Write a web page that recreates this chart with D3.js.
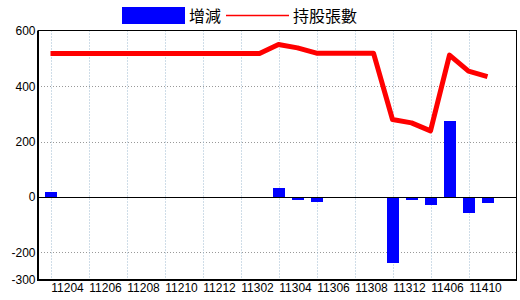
<!DOCTYPE html>
<html>
<head>
<meta charset="utf-8">
<script src="https://cdn.jsdelivr.net/npm/d3@7"></script>
<style>
  html, body { margin: 0; padding: 0; background: #fff; }
  svg { display: block; }
  .tick-text { font-family: "Liberation Sans Narrow", "Arial Narrow", "Liberation Sans", Arial, sans-serif; font-size: 12px; fill: #000; }
  .legend-text { font-family: "Noto Sans CJK TC", "Noto Sans CJK SC", sans-serif; font-size: 16px; fill: #000; }
</style>
</head>
<body>
<script>
// ---- Data ----
const categories = ["11203","11204","11205","11206","11207","11208","11209","11210","11211","11212","11301","11302",
                    "11303","11304","11305","11306","11307","11308","11310","11312","11403","11406","11408","11410"];
const changeValues = [18, 0, 0, 0, 0, 0, 0, 0, 0, 0, 0, 0,
                      32, -12, -19, 0, 0, 0, -240, -12, -29, 274, -58, -20];
const holdingValues = [519, 519, 519, 519, 519, 519, 519, 519, 519, 519, 519, 519,
                       551, 539, 520, 520, 520, 520, 280, 268, 239, 513, 455, 435];
const yTicks = [600, 400, 200, 0, -200, -300];
const yGrid = [400, 200, -200];
const xLabels = ["11204","11206","11208","11210","11212","11302","11304","11306","11308","11312","11406","11410"];
const legendLabels = ["增減", "持股張數"];

// ---- Layout ----
const W = 520, H = 300;
const mLeft = 38, mRight = 516.5, mTop = 30.5, mBottom = 280;

const svg = d3.select("body").append("svg").attr("width", W).attr("height", H);

const y = d3.scaleLinear().domain([-300, 600]).range([mBottom, mTop + 0.5]);
const x = d3.scalePoint().domain(categories).range([50.5, 487.5]);

// grid: horizontal
svg.append("g").selectAll("line").data(yGrid).join("line")
  .attr("x1", mLeft).attr("x2", mRight)
  .attr("y1", d => Math.round(y(d)) + 0.5).attr("y2", d => Math.round(y(d)) + 0.5)
  .attr("stroke", "#999").attr("stroke-width", 1).attr("stroke-dasharray", "1,2");

// grid: vertical at every other category
const gridCats = categories.filter((d, i) => i % 2 === 0);
svg.append("g").selectAll("line").data(gridCats).join("line")
  .attr("x1", d => Math.round(x(d)) + 0.5).attr("x2", d => Math.round(x(d)) + 0.5)
  .attr("y1", mTop).attr("y2", mBottom)
  .attr("stroke", "#9fbbd0").attr("stroke-width", 1).attr("stroke-dasharray", "1,2");

// bars
const barW = 12;
svg.append("g").selectAll("rect").data(categories.map((c, i) => ({c, v: changeValues[i]})).filter(d => d.v !== 0)).join("rect")
  .attr("x", d => x(d.c) - barW / 2)
  .attr("width", barW)
  .attr("y", d => Math.min(y(d.v), y(0)))
  .attr("height", d => Math.abs(y(d.v) - y(0)))
  .attr("fill", "#0000ff")
  .attr("shape-rendering", "crispEdges");

// zero line
svg.append("line")
  .attr("x1", mLeft).attr("x2", mRight)
  .attr("y1", Math.round(y(0)) + 0.5).attr("y2", Math.round(y(0)) + 0.5)
  .attr("stroke", "#000").attr("stroke-width", 1);

// holding line
const line = d3.line().x((d, i) => x(categories[i])).y(d => y(d));
svg.append("path").datum(holdingValues)
  .attr("d", line)
  .attr("fill", "none")
  .attr("stroke", "#ff0000")
  .attr("stroke-width", 5)
  .attr("stroke-linejoin", "round");

// frame
svg.append("rect")
  .attr("x", mLeft + 0.5).attr("y", mTop).attr("width", mRight - mLeft - 0.5).attr("height", mBottom - mTop)
  .attr("fill", "none").attr("stroke", "#000").attr("stroke-width", 1);
svg.append("line").attr("x1", mLeft).attr("x2", mLeft).attr("y1", mTop).attr("y2", mBottom + 1)
  .attr("stroke", "#000").attr("stroke-width", 2);
svg.append("line").attr("x1", mLeft).attr("x2", mRight + 0.5).attr("y1", mBottom).attr("y2", mBottom)
  .attr("stroke", "#000").attr("stroke-width", 2);

// y tick labels
svg.append("g").selectAll("text").data(yTicks).join("text")
  .attr("class", "tick-text")
  .attr("x", 35.5)
  .attr("y", d => y(d))
  .attr("dy", "0.36em")
  .attr("text-anchor", "end")
  .text(d => d);

// x tick labels at odd categories
const labelCats = categories.filter((d, i) => i % 2 === 1);
svg.append("g").selectAll("text").data(labelCats).join("text")
  .attr("class", "tick-text")
  .attr("x", (d) => x(d) - 2)
  .attr("y", 292)
  .attr("text-anchor", "middle")
  .text((d, i) => xLabels[i]);

// legend
const lg = svg.append("g");
lg.append("rect").attr("x", 122).attr("y", 7).attr("width", 63).attr("height", 17).attr("fill", "#0000ff");
lg.append("text").attr("class", "legend-text").attr("x", 189).attr("y", 22).text(legendLabels[0]);
lg.append("line").attr("x1", 226).attr("x2", 289).attr("y1", 15.5).attr("y2", 15.5)
  .attr("stroke", "#ff0000").attr("stroke-width", 1.5);
lg.append("text").attr("class", "legend-text").attr("x", 293).attr("y", 22).text(legendLabels[1]);
</script>
</body>
</html>
